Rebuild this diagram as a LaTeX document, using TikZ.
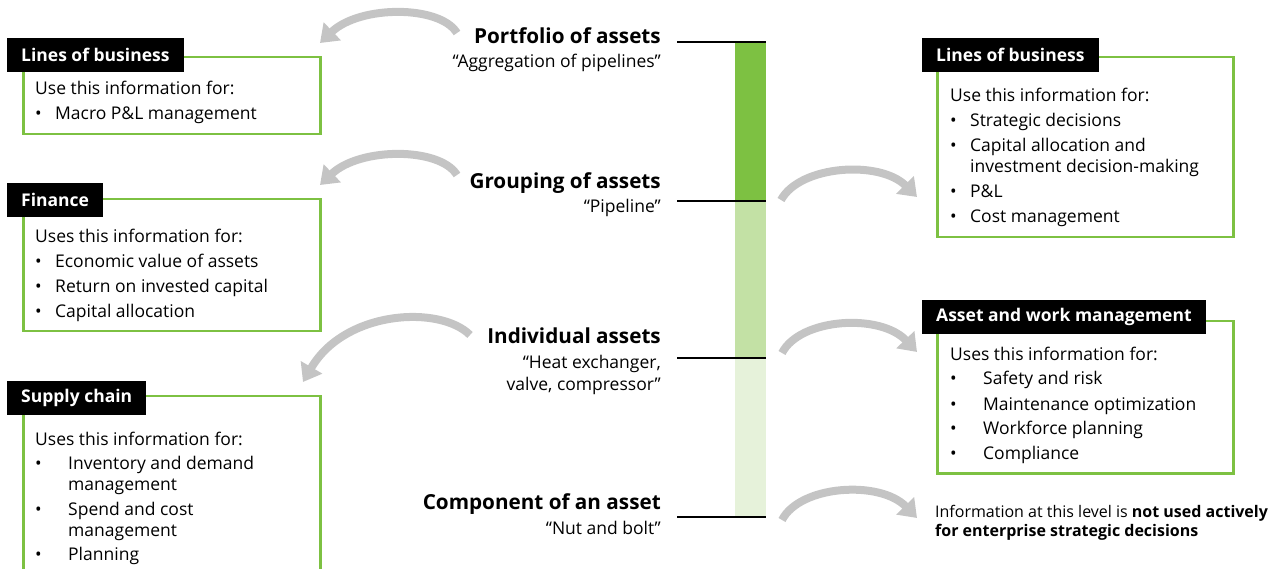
\documentclass[tikz,border=0pt]{standalone}
\usepackage{fontspec}
\setmainfont{Open Sans}
\usetikzlibrary{arrows.meta,positioning}
\definecolor{leafgreen}{HTML}{7DC142}
\definecolor{palegreen}{HTML}{C3E1A5}
\definecolor{mistgreen}{HTML}{E6F2DA}
\definecolor{arrowgrey}{HTML}{C4C4C4}
\newcommand{\bul}[1]{\makebox[#1][l]{•}}
\tikzset{
  infobox/.style={draw=leafgreen, line width=2.5pt, anchor=north west, inner sep=0pt},
  tagbox/.style={fill=black, text=white, font=\fontsize{17.5}{20}\selectfont\bfseries, anchor=north west,
    minimum height=34pt, inner xsep=14pt, inner ysep=0pt},
  infotext/.style={anchor=base west, align=left, inner sep=0pt, font=\fontsize{17.5}{21}\selectfont},
  levelname/.style={anchor=base east, inner sep=0pt, font=\fontsize{20.7}{24}\selectfont\bfseries},
  levelquote/.style={anchor=base east, align=right, inner sep=0pt, font=\fontsize{17.5}{22}\selectfont},
  flow/.style={draw=arrowgrey, line width=8pt, -{Triangle[width=24pt,length=17pt]}}
}
\begin{document}
\begin{tikzpicture}[x=1pt,y=-1pt]
\useasboundingbox (0,0) rectangle (1278,569);
% the level bar
\fill[leafgreen] (735,42) rectangle (766,201);
\fill[palegreen] (735,201) rectangle (766,358);
\fill[mistgreen] (735,358) rectangle (766,517);
\foreach \y in {42,201,358,517} \draw[line width=1.8pt] (677,\y) -- (766,\y);
% levels
\node[levelname] (portfolio) at (661,44) {Portfolio of assets};
\node[levelquote] (portfolioq) at (661,68) {“Aggregation of pipelines”};
\node[levelname] (grouping) at (661,189) {Grouping of assets};
\node[levelquote] (groupingq) at (661,213) {“Pipeline”};
\node[levelname] (individual) at (661,344) {Individual assets};
\node[levelquote] (individualq) at (661,391) {“Heat exchanger,\\valve, compressor”};
\node[levelname] (component) at (661,509) {Component of an asset};
\node[levelquote] (componentq) at (661,534) {“Nut and bolt”};
% left boxes
\node[infobox, minimum width=297pt, minimum height=77pt] (lobleft) at (22,56) {};
\node[tagbox] (lobleftt) at (7,38) {Lines of business};
\node[infotext] (loblefttx) at (35,120) {Use this information for:\\[4pt]
  \bul{20pt}Macro P\&L management};
\node[infobox, minimum width=297pt, minimum height=132pt] (finance) at (22,198) {};
\node[tagbox] (financet) at (7,183) {Finance};
\node[infotext] (financetx) at (35,318) {Uses this information for:\\[4pt]
  \bul{20pt}Economic value of assets\\[4pt]
  \bul{20pt}Return on invested capital\\[4pt]
  \bul{20pt}Capital allocation};
\node[infobox, minimum width=297pt, minimum height=200pt] (supply) at (22,395) {};
\node[tagbox] (supplyt) at (7,381) {Supply chain};
\node[infotext] (supplytx) at (35,560) {Uses this information for:\\[3pt]
  \bul{33pt}Inventory and demand\\
  \hspace*{33pt}management\\[4pt]
  \bul{33pt}Spend and cost\\
  \hspace*{33pt}management\\[3pt]
  \bul{33pt}Planning};
% right boxes
\node[infobox, minimum width=296pt, minimum height=180pt] (lobright) at (936,56) {};
\node[tagbox] (lobrightt) at (922,38) {Lines of business};
\node[infotext] (lobrighttx) at (950,223) {Use this information for:\\[4pt]
  \bul{20pt}Strategic decisions\\[4pt]
  \bul{20pt}Capital allocation and\\
  \hspace*{20pt}investment decision-making\\[4pt]
  \bul{20pt}P\&L\\[4pt]
  \bul{20pt}Cost management};
\node[infobox, minimum width=296pt, minimum height=152pt] (assetwork) at (936,320) {};
\node[tagbox] (assetworkt) at (922,300) {Asset and work management};
\node[infotext] (assetworktx) at (950,460) {Uses this information for:\\[4pt]
  \bul{33pt}Safety and risk\\[4pt]
  \bul{33pt}Maintenance optimization\\[4pt]
  \bul{33pt}Workforce planning\\[4pt]
  \bul{33pt}Compliance};
\node[anchor=base west, align=left, inner sep=0pt, font=\fontsize{16}{19}\selectfont] (nouse) at (935,536)
  {Information at this level is \textbf{not used actively}\\\textbf{for enterprise strategic decisions}};
% arrows
\coordinate (portfolio-out) at (457,33);
\coordinate (lobleft-in) at (320,43);
\coordinate (grouping-out) at (457,175);
\coordinate (finance-in) at (320,185);
\coordinate (individual-out) at (470,335);
\coordinate (supply-in) at (303,382);
\coordinate (grouping-right) at (781,200);
\coordinate (lobright-in) at (917,197);
\coordinate (individual-right) at (782,353);
\coordinate (assetwork-in) at (917,352);
\coordinate (component-right) at (782,520);
\coordinate (nouse-in) at (917,518);
\draw[flow] (portfolio-out) .. controls (440,5) and (360,5) .. (lobleft-in);
\draw[flow] (grouping-out) .. controls (440,147) and (360,147) .. (finance-in);
\draw[flow] (individual-out) .. controls (440,305) and (345,310) .. (supply-in);
\draw[flow] (grouping-right) .. controls (800,165) and (880,160) .. (lobright-in);
\draw[flow] (individual-right) .. controls (800,318) and (880,313) .. (assetwork-in);
\draw[flow] (component-right) .. controls (800,485) and (880,480) .. (nouse-in);
\end{tikzpicture}
\end{document}
